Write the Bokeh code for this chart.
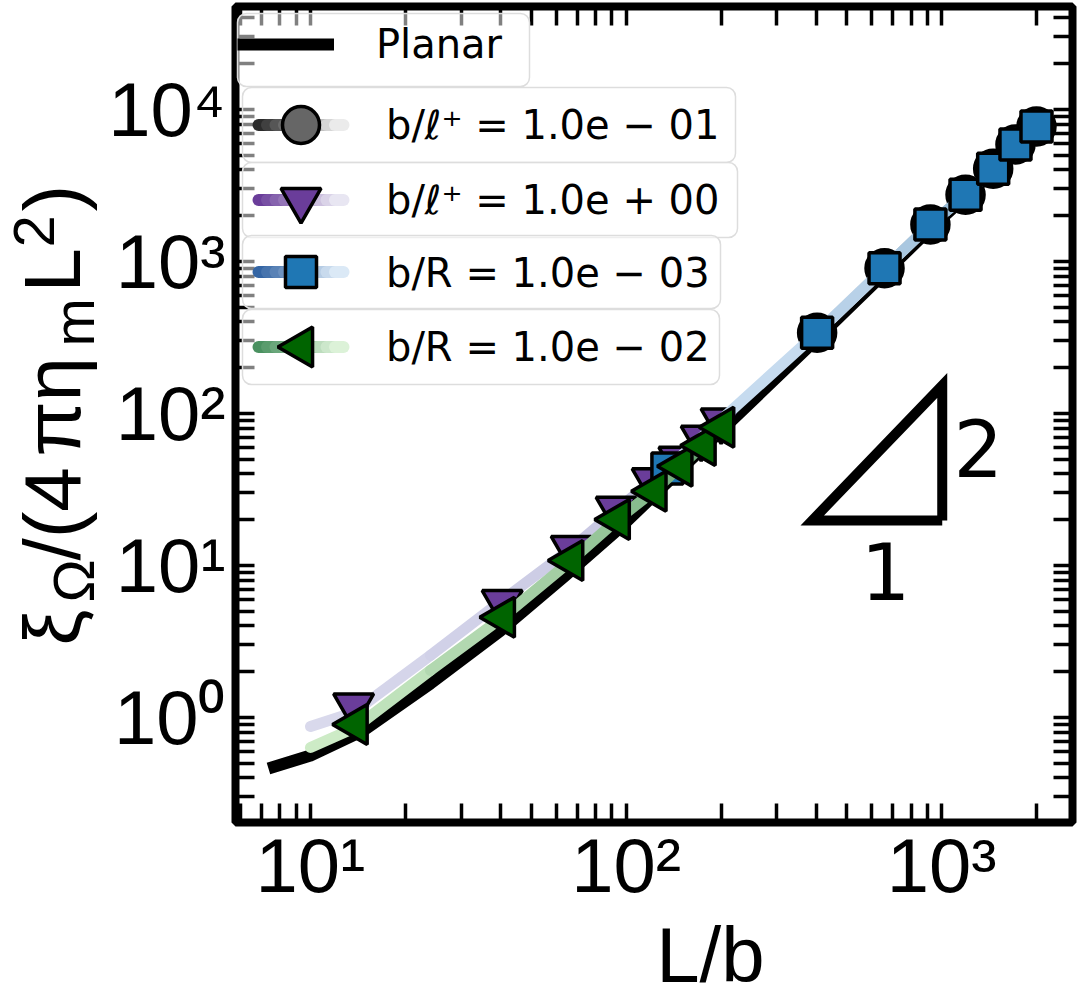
import math
from math import pi
from bokeh.plotting import figure
from bokeh.layouts import row, column
from bokeh.models import (Range1d, LogAxis, FixedTicker, Legend, LegendItem, Label,
                          ColumnDataSource, CustomJSTickFormatter)
from bokeh.embed import file_html
from bokeh.resources import INLINE

# ---------------- data ----------------
planar_x = [7.36, 10.0, 14.7, 24.0, 40.0, 64.3, 95.9, 172, 413, 921, 2056]
planar_y = [0.462, 0.562, 0.821, 1.674, 3.73, 8.59, 17.8, 57.1, 326, 1648, 7500]

lp01_x = [403, 659, 921, 1190, 1456, 1713, 1997]          # b/l+ = 0.1 (circles)
lp01_y = [339.6, 903, 1751, 2747, 4074, 5888, 7730]

lp1_x = [13.7, 40.5, 67.0, 93.0, 121, 147, 173, 200]      # b/l+ = 1 (down triangles)
lp1_y = [1.199, 5.74, 13.03, 23.6, 36.3, 50.3, 69.2, 89.9]
lp1_line_x = [10.0, 13.7, 24.0, 40.5, 67.0, 93.0, 121, 147, 173, 200]
lp1_line_y = [0.873, 1.08, 2.56, 5.89, 12.9, 23.0, 36.3, 50.6, 69.4, 89.9]

r3_x = [135.2, 403, 659, 921, 1190, 1456, 1713, 1997]    # b/R = 1e-3 (squares)
r3_y = [43.5, 339.6, 903, 1751, 2747, 4074, 5888, 7730]

r2_x = [13.9, 40.7, 67.0, 94.1, 123, 148.6, 176, 201.6]   # b/R = 1e-2 (left triangles)
r2_y = [0.90, 4.57, 10.79, 20.07, 30.8, 45.0, 61.6, 81.3]
r2_line_x = [10.0, 13.9, 24.0, 40.5, 67.0, 94.0, 122, 148, 175, 201]
r2_line_y = [0.635, 0.86, 2.04, 4.54, 10.8, 20.1, 30.7, 44.7, 61.6, 80.9]

labels = ["Planar", "b/ℓ⁺ = 1.0e − 01", "b/ℓ⁺ = 1.0e + 00",
          "b/R = 1.0e − 03", "b/R = 1.0e − 02"]

x_major = [10, 100, 1000]
x_minor = [6, 7, 8, 9, 20, 30, 40, 50, 60, 70, 80, 90,
           200, 300, 400, 500, 600, 700, 800, 900, 2000]
y_major = [1, 10, 100, 1000, 10000]
y_minor = [0.3, 0.4, 0.5, 0.6, 0.7, 0.8, 0.9, 2, 3, 4, 5, 6, 7, 8, 9,
           20, 30, 40, 50, 60, 70, 80, 90, 200, 300, 400, 500, 600, 700, 800, 900,
           2000, 3000, 4000, 5000, 6000, 7000, 8000, 9000, 20000, 30000, 40000]
x_tick_labels = {10: "10¹", 100: "10²", 1000: "10³"}
y_tick_labels = {1: "10⁰", 10: "10¹", 100: "10²", 1000: "10³", 10000: "10⁴"}

# slope triangle annotation
tri_x = [1004, 389, 1004, 1004]
tri_y = [19.8, 19.8, 152.8, 19.8]

# ---------------- geometry ----------------
X_LO, X_HI = 5.787, 2597
Y_LO, Y_HI = 0.2038, 47610
YLAB_W = 105            # width of the strip holding the y title
LEFT_PANEL = 130        # main figure left panel -> frame left at page x 235
FRAME_W, FRAME_H = 837, 816
TOP_PANEL, BOTTOM_PANEL, RIGHT_PANEL = 6, 90, 6
TOTAL_H = 1000
FL = YLAB_W + LEFT_PANEL    # frame left in page px
FT = TOP_PANEL              # frame top in page px
MID = 0.35                  # label anchor sits this many em above the baseline

LX0, LX1 = math.log10(X_LO), math.log10(X_HI)
LY0, LY1 = math.log10(Y_LO), math.log10(Y_HI)


def px2x(px):
    return 10 ** (LX0 + (px - FL) / FRAME_W * (LX1 - LX0))


def py2y(py):
    return 10 ** (LY1 - (py - FT) / FRAME_H * (LY1 - LY0))


# ---------------- main figure ----------------
p = figure(frame_width=FRAME_W, frame_height=FRAME_H, x_axis_type="log", y_axis_type="log",
           x_range=Range1d(X_LO, X_HI), y_range=Range1d(Y_LO, Y_HI),
           output_backend="svg", toolbar_location=None,
           min_border_left=LEFT_PANEL, min_border_right=RIGHT_PANEL,
           min_border_top=TOP_PANEL, min_border_bottom=BOTTOM_PANEL,
           background_fill_color="white", border_fill_color="white")
p.grid.visible = False
p.outline_line_color = "black"
p.outline_line_width = 8

TICK_FONT = "Liberation Sans"


def style_axis(ax, major, minor, overrides):
    ax.ticker = FixedTicker(ticks=major, minor_ticks=minor)
    ax.axis_line_color = None
    ax.major_tick_in = 19
    ax.major_tick_out = 0
    ax.minor_tick_in = 19
    ax.minor_tick_out = 0
    ax.major_tick_line_width = 3.5
    ax.minor_tick_line_width = 3.5
    ax.major_tick_line_color = "black"
    ax.minor_tick_line_color = "black"
    if overrides is None:
        ax.formatter = CustomJSTickFormatter(code="return ''")
        ax.major_label_text_font_size = "0px"
        ax.major_label_standoff = 0
    else:
        ax.major_label_overrides = overrides
        ax.major_label_text_font = TICK_FONT
        ax.major_label_text_font_size = "76px"
        ax.major_label_text_color = "black"


style_axis(p.xaxis[0], x_major, x_minor, x_tick_labels)
p.xaxis[0].major_label_standoff = 0
style_axis(p.yaxis[0], y_major, y_minor, y_tick_labels)
p.yaxis[0].major_label_standoff = 10

top_ax = LogAxis()
style_axis(top_ax, x_major, x_minor, None)
p.add_layout(top_ax, "above")
right_ax = LogAxis()
style_axis(right_ax, y_major, y_minor, None)
p.add_layout(right_ax, "right")


def hex2rgb(h):
    h = h.lstrip("#")
    return tuple(int(h[i:i + 2], 16) for i in (0, 2, 4))


def grad(c0, c1, n):
    a, b = hex2rgb(c0), hex2rgb(c1)
    out = []
    for i in range(n):
        t = i / max(n - 1, 1)
        out.append("#%02x%02x%02x" % tuple(round(a[k] + (b[k] - a[k]) * t) for k in range(3)))
    return out


def grad_line(xs, ys, c0, c1, width, level="glyph"):
    n = len(xs) - 1
    src = ColumnDataSource(dict(
        xs=[[xs[i], xs[i + 1]] for i in range(n)],
        ys=[[ys[i], ys[i + 1]] for i in range(n)],
        color=grad(c0, c1, n)))
    return p.multi_line("xs", "ys", source=src, line_color="color", line_width=width,
                        line_cap="round", line_join="round", level=level)


MARKERS = dict(
    circ=dict(marker="circle", size=37, fill_color="#666666", angle=0.0),
    pur=dict(marker="inverted_triangle", size=40, fill_color="#6a3d9a", angle=0.0),
    sq=dict(marker="square", size=31, fill_color="#1f77b4", angle=0.0),
    grn=dict(marker="triangle", size=40, fill_color="#006400", angle=pi / 2),
)

# planar curve
planar_r = p.line(planar_x, planar_y, line_color="black", line_width=12, line_join="round")

# b/l+ = 0.1 : grey gradient + circles
grad_line(lp01_x, lp01_y, "#e6e6e6", "#555555", 11)
circ = p.scatter(lp01_x, lp01_y, line_color="black", line_width=3.5, **MARKERS["circ"])

# b/l+ = 1 : purple gradient + down triangles
grad_line(lp1_line_x, lp1_line_y, "#d9d9ec", "#b9b8da", 11)
pur = p.scatter(lp1_x, lp1_y, line_color="black", line_width=3.5, **MARKERS["pur"])

# b/R = 1e-3 : blue gradient + squares
grad_line(r3_x, r3_y, "#c6dbef", "#6f9fc2", 11)
sq = p.scatter(r3_x, r3_y, line_color="black", line_width=3.5, **MARKERS["sq"])

# b/R = 1e-2 : green gradient + left triangles
grad_line(r2_line_x, r2_line_y, "#cdebc6", "#5f9f6c", 11)
grn = p.scatter(r2_x, r2_y, line_color="black", line_width=3.5, **MARKERS["grn"])

# slope triangle with its "1" and "2"
p.line(tri_x, tri_y, line_color="black", line_width=10, line_join="miter")
NUM_SIZE = 78
p.add_layout(Label(x=px2x(885), y=py2y(598 - MID * NUM_SIZE), text="1", text_font="DejaVu Sans",
                   text_color="black", text_font_size=f"{NUM_SIZE}px", text_align="center",
                   text_baseline="alphabetic"))
p.add_layout(Label(x=px2x(953), y=py2y(475 - MID * NUM_SIZE), text="2", text_font="DejaVu Sans",
                   text_color="black", text_font_size=f"{NUM_SIZE}px", text_align="left",
                   text_baseline="alphabetic"))

# ---------------- legends (one box per entry) ----------------
LEG_TOPS = [13, 87, 162, 235, 309]
LEG_BOTTOMS = [86, 162, 237, 308, 384]
LEG_LEFT = [237, 242, 242, 242, 242]
LEG_RIGHT = [529, 735, 737, 720, 719]
LEG_H = [72, 79, 79, 79, 79]     # height Bokeh gives each legend block
LEG_RAISE = 17                   # correction measured on the previous render

# translucent rounded boxes (drawn above the ticks, below the handles and texts)
box_src = ColumnDataSource(dict(
    left=[px2x(v) for v in LEG_LEFT], right=[px2x(v) for v in LEG_RIGHT],
    top=[py2y(v) for v in LEG_TOPS], bottom=[py2y(v) for v in LEG_BOTTOMS]))
boxes = p.quad(left="left", right="right", top="top", bottom="bottom", source=box_src,
               fill_color="white", fill_alpha=0.5, line_color="#dddddd", line_width=1.5,
               level="annotation")
if "border_radius" in boxes.glyph.properties():
    boxes.glyph.border_radius = 9

dummy = p.line(x=[], y=[], line_alpha=0)


def add_legend(item, k, pad, gw, standoff):
    lg = Legend(items=[item],
                location=(LEG_LEFT[k] - FL,
                          FRAME_H - (LEG_TOPS[k] + LEG_H[k] - FT) + LEG_RAISE),
                orientation="vertical", label_text_font="DejaVu Sans",
                label_text_font_size="40px", label_text_color="black",
                glyph_width=gw, glyph_height=48, label_height=48, padding=pad,
                margin=0, spacing=0, label_standoff=standoff,
                border_line_color=None, background_fill_alpha=0)
    p.add_layout(lg)


add_legend(LegendItem(label=labels[0], renderers=[planar_r]), 0, 12, 97, 42)
for k in range(1, 5):
    add_legend(LegendItem(label=labels[k], renderers=[dummy]), k, 16, 85, 59)

# legend handles: gradient line + full-size marker
HANDLE_X0, HANDLE_X1, HANDLE_N = 258, 343, 10
handle_grads = [("#2b2b2b", "#ebebeb"), ("#6a3d9a", "#e8e6f2"),
                ("#3465a4", "#dbe9f6"), ("#4a9160", "#dcf2d8")]
handle_markers = ["circ", "pur", "sq", "grn"]
for j in range(4):
    k = j + 1
    cy = (LEG_TOPS[k] + LEG_BOTTOMS[k]) / 2
    hx = [px2x(HANDLE_X0 + (HANDLE_X1 - HANDLE_X0) * i / HANDLE_N) for i in range(HANDLE_N + 1)]
    hy = [py2y(cy)] * (HANDLE_N + 1)
    c0, c1 = handle_grads[j]
    grad_line(hx, hy, c0, c1, 12, level="annotation")
    p.scatter([px2x((HANDLE_X0 + HANDLE_X1) / 2)], [py2y(cy)], line_color="black",
              line_width=3.5, level="annotation", **MARKERS[handle_markers[j]])

# ---------------- y title strip (sub/superscripts as separate texts) ----------------
AX_FONT = "Liberation Sans"
ylab_fig = figure(width=YLAB_W, height=TOTAL_H, x_range=Range1d(0, YLAB_W),
                  y_range=Range1d(0, TOTAL_H), output_backend="svg", toolbar_location=None,
                  min_border=0, background_fill_color="white", border_fill_color="white")
ylab_fig.axis.visible = False
ylab_fig.grid.visible = False
ylab_fig.outline_line_color = None


def ylab(text, page_base_x, page_start_y, size):
    ylab_fig.add_layout(Label(x=page_base_x - MID * size, y=TOTAL_H - page_start_y, text=text,
                              angle=pi / 2, text_font=AX_FONT, text_font_size=f"{size}px",
                              text_color="black", text_align="left",
                              text_baseline="alphabetic"))


ylab("ξ", 80, 645, 80)
ylab("Ω", 93, 602, 58)
ylab("/(4", 80, 560, 80)
ylab("π", 80, 456, 80)
ylab("η", 80, 401, 80)
ylab("m", 93, 346, 58)
ylab("L", 80, 292, 80)
ylab("2", 54, 247, 58)
ylab(")", 80, 211, 80)

# ---------------- x title strip ----------------
MAIN_W = LEFT_PANEL + FRAME_W + RIGHT_PANEL
MAIN_H = TOP_PANEL + FRAME_H + BOTTOM_PANEL
XLAB_H = TOTAL_H - MAIN_H
XT_SIZE = 78
XT_BASE = 982
xlab_fig = figure(width=MAIN_W, height=XLAB_H, x_range=Range1d(0, MAIN_W),
                  y_range=Range1d(0, XLAB_H), output_backend="svg", toolbar_location=None,
                  min_border=0, background_fill_color="white", border_fill_color="white")
xlab_fig.axis.visible = False
xlab_fig.grid.visible = False
xlab_fig.outline_line_color = None
xlab_fig.add_layout(Label(x=657 - YLAB_W, y=TOTAL_H - (XT_BASE - MID * XT_SIZE), text="L/b",
                          text_font=AX_FONT, text_font_size=f"{XT_SIZE}px", text_color="black",
                          text_align="center", text_baseline="alphabetic"))

layout = row(ylab_fig, column(p, xlab_fig, spacing=0), spacing=0)
open("out.html", "w").write(file_html(layout, INLINE))
